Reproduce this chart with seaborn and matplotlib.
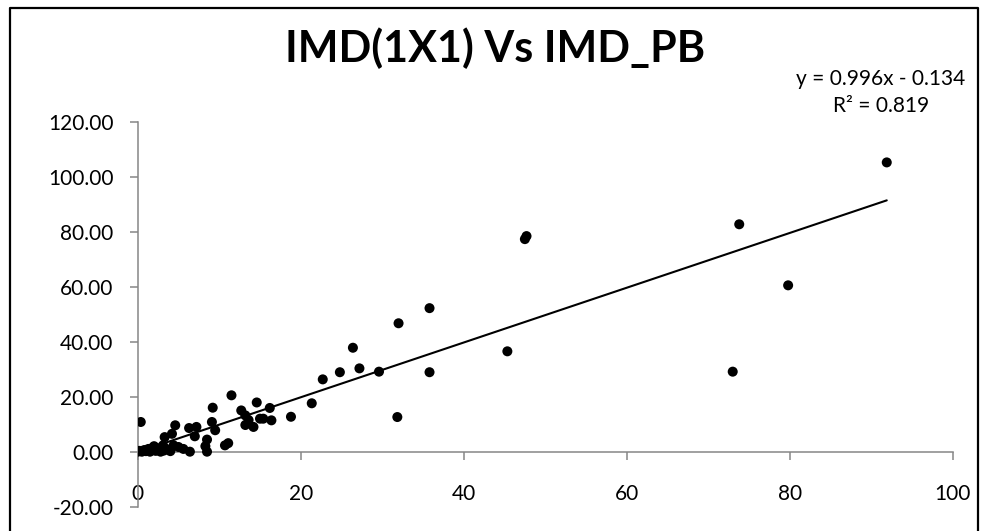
import matplotlib
matplotlib.use("Agg")
import matplotlib.pyplot as plt
from matplotlib.lines import Line2D
import seaborn as sns
import pandas as pd

# IMD (1x1 grid) rainfall vs IMD point-based values
imd_1x1 = [
    91.9, 73.8, 79.8, 73.0, 47.5, 47.7, 45.35, 35.8, 35.8, 32.0,
    31.85, 29.6, 27.2, 26.4, 24.8, 22.7, 21.35, 18.8, 16.2, 16.4,
    15.4, 14.6, 14.2, 13.6, 13.2, 12.7, 11.5, 11.1, 10.7, 9.5,
    9.2, 9.1, 8.5, 8.3, 8.5, 7.2, 6.3, 7.0, 6.4, 5.6,
    5.0, 4.6, 4.2, 4.4, 3.3, 3.1, 3.5, 0.37, 0.0, 0.2,
    0.5, 0.8, 1.0, 1.3, 1.6, 1.9, 2.2, 2.5, 2.8, 3.2,
    2.0, 1.5, 4.0, 15.0, 13.2,
]
imd_pb = [
    105.2, 82.7, 60.5, 29.1, 77.3, 78.4, 36.5, 52.2, 28.9, 46.7,
    12.6, 29.1, 30.3, 37.8, 28.9, 26.3, 17.6, 12.7, 15.9, 11.4,
    12.0, 17.9, 9.0, 11.5, 9.7, 15.0, 20.5, 3.1, 2.3, 7.8,
    16.0, 10.8, 4.4, 2.0, 0.0, 9.0, 8.6, 5.6, 0.0, 1.0,
    1.7, 9.6, 6.5, 2.3, 5.3, 2.3, 1.0, 10.8, 0.0, 0.3,
    0.0, 0.6, 0.2, 1.0, 0.5, 1.6, 0.3, 1.2, 0.0, 0.4,
    2.0, 0.0, 0.2, 12.0, 13.2,
]

# Linear trendline reported on the chart
slope = 0.996
intercept = -0.134
r_squared = 0.819

x_ticks = [0, 20, 40, 60, 80, 100]
y_ticks = [-20, 0, 20, 40, 60, 80, 100, 120]

title_text = "IMD(1X1) Vs IMD_PB"

sns.set_theme(style="white")
plt.rcParams["font.family"] = ["Lato", "DejaVu Sans"]

df = pd.DataFrame({"imd_1x1": imd_1x1, "imd_pb": imd_pb})
x_min, x_max = min(imd_1x1), max(imd_1x1)
trend = pd.DataFrame({
    "x": [x_min, x_max],
    "y": [slope * x_min + intercept, slope * x_max + intercept],
})

fig = plt.figure(figsize=(9.86, 5.31), dpi=100)
fig.patch.set_facecolor("white")
ax = fig.add_axes([0.1397, 0.0458, 0.8266, 0.7250])

sns.scatterplot(data=df, x="imd_1x1", y="imd_pb", ax=ax, color="black",
                s=52, edgecolor="none", zorder=3)
sns.lineplot(data=trend, x="x", y="y", ax=ax, color="black",
             linewidth=1.5, zorder=4)

ax.set_xlim(0, 100)
ax.set_ylim(-20, 120)
ax.set_xticks(x_ticks)
ax.set_yticks(y_ticks)
ax.set_xticklabels([str(v) for v in x_ticks])
ax.set_yticklabels([f"{v:.2f}" for v in y_ticks])
ax.set_xlabel("")
ax.set_ylabel("")

axis_grey = "#868686"
for side in ("top", "right"):
    ax.spines[side].set_visible(False)
ax.spines["bottom"].set_position(("data", 0))
for side in ("left", "bottom"):
    ax.spines[side].set_color(axis_grey)
    ax.spines[side].set_linewidth(1.1)

ax.tick_params(axis="x", direction="out", length=5.5, width=1.1,
               color=axis_grey, pad=18, labelsize=15, labelcolor="black")
ax.tick_params(axis="y", direction="out", length=5.5, width=1.1,
               color=axis_grey, pad=12, labelsize=15, labelcolor="black")
ax.tick_params(bottom=True, left=True)
ax.grid(False)

fig.text(495 / 986, 1 - 48 / 531, title_text, ha="center", va="center",
         fontsize=31, fontweight="bold", color="black")
fig.text(881 / 986, 1 - 79 / 531, f"y = {slope:.3f}x - {abs(intercept):.3f}",
         ha="center", va="center", fontsize=15, color="black")
fig.text(881 / 986, 1 - 106 / 531, f"R\u00b2 = {r_squared:.3f}",
         ha="center", va="center", fontsize=15, color="black")

# Chart-area border (open at the bottom edge of the image)
bx0, bx1 = 10 / 986, 978 / 986
by_top = 1 - 8 / 531
fig.add_artist(Line2D([bx0, bx0, bx1, bx1], [-0.01, by_top, by_top, -0.01],
                      transform=fig.transFigure, color="black", linewidth=1.6))

fig.savefig("out.png", dpi=100, facecolor="white")
